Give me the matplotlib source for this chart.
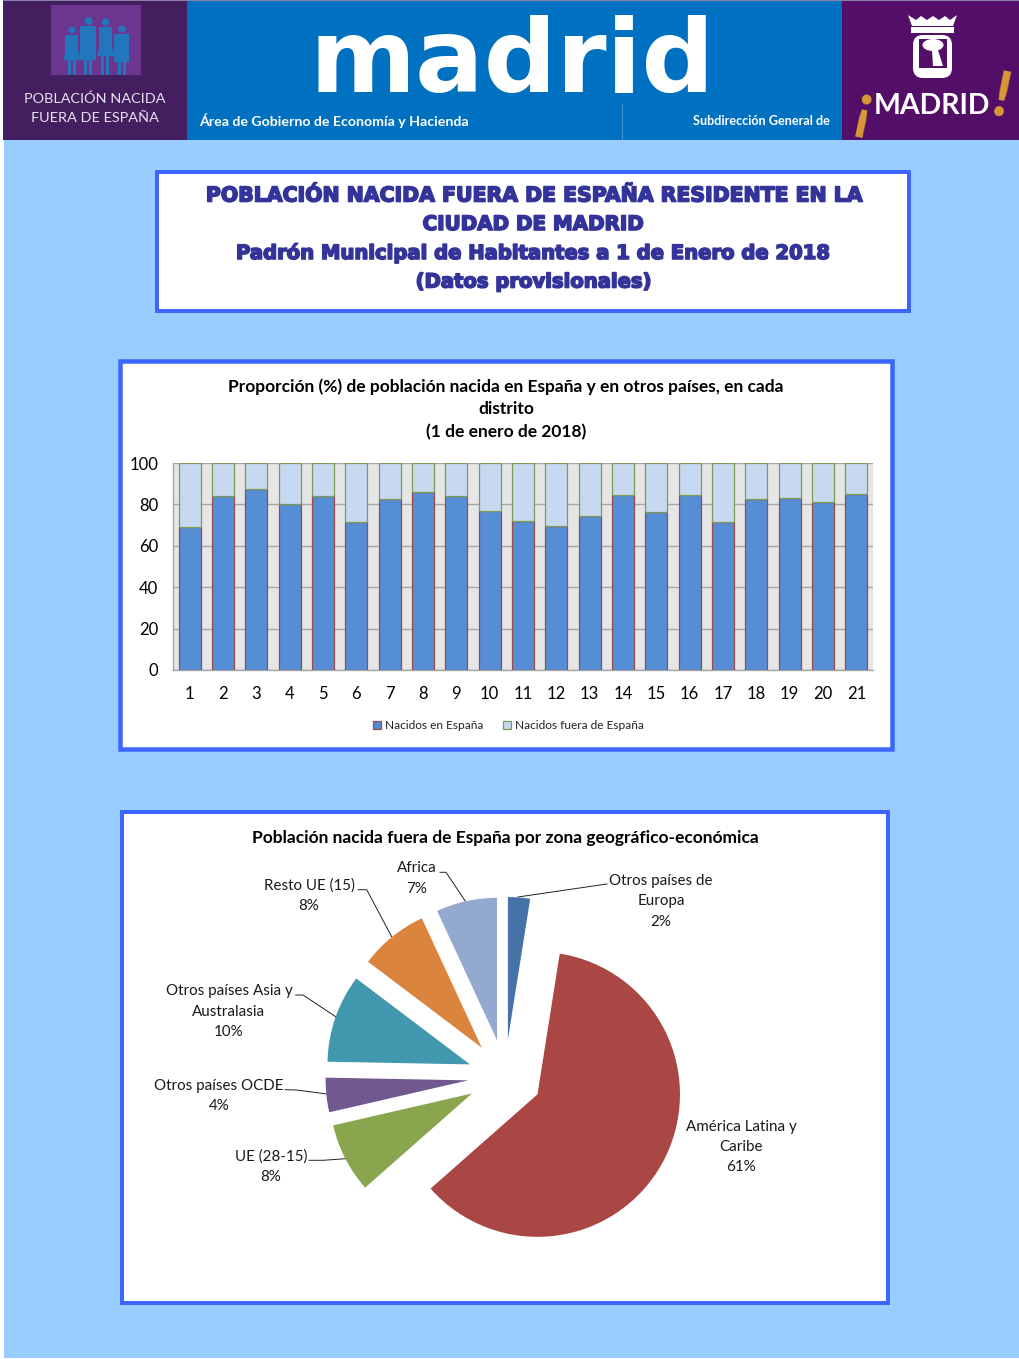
import matplotlib
matplotlib.use("Agg")
import matplotlib.pyplot as plt
import matplotlib.patheffects as pe
from matplotlib.patches import Rectangle, Circle, Ellipse, Polygon, FancyBboxPatch

W, H = 1020, 1359

# ---- data ----
districts = [str(i) for i in range(1, 22)]
born_spain = [69.0, 83.9, 87.6, 80.2, 84.2, 71.6, 82.4, 86.1, 83.9, 76.9, 71.9,
              69.5, 74.5, 84.7, 76.5, 84.4, 71.6, 82.7, 82.9, 81.3, 85.0]
born_abroad = [31.0, 16.1, 12.4, 19.8, 15.8, 28.4, 17.6, 13.9, 16.1, 23.1, 28.1,
               30.5, 25.5, 15.3, 23.5, 15.6, 28.4, 17.3, 17.1, 18.7, 15.0]
y_ticks = [0, 20, 40, 60, 80, 100]
legend_names = ["Nacidos en España", "Nacidos fuera de España"]

zones = ["Otros países de\nEuropa", "América Latina y\nCaribe", "UE (28-15)", "Otros países OCDE",
         "Otros países Asia y\nAustralasia", "Resto UE (15)", "Africa"]
zone_values = [2.5, 61.0, 7.9, 3.9, 10.0, 7.8, 6.9]
zone_pct = ["2%", "61%", "8%", "4%", "10%", "8%", "7%"]
zone_colors = ["#4572a7", "#aa4643", "#89a54e", "#71588f", "#4198af", "#db843d", "#93a9cf"]

BODY = "Lato"
BOX = "#3c66ff"
PAGE = "#99ccff"

fig = plt.figure(figsize=(W / 100, H / 100), dpi=100, facecolor="white")

def px_axes(x0, y0, x1, y1, **kw):
    return fig.add_axes([x0 / W, 1 - y1 / H, (x1 - x0) / W, (y1 - y0) / H], **kw)

# ---- page layer in pixel coordinates ----
bg = fig.add_axes([0, 0, 1, 1], zorder=0)
bg.set_xlim(0, W)
bg.set_ylim(H, 0)
bg.axis("off")

def rect(x0, y0, x1, y1, **kw):
    bg.add_patch(Rectangle((x0, y0), x1 - x0, y1 - y0, **kw))

rect(4, 139, W, 1358, fc=PAGE, ec="none")
rect(3, 1, 187, 139.5, fc="#441f5f", ec="none")
rect(187, 1, 842, 139.5, fc="#0070c0", ec="none")
rect(842, 1, W, 139.5, fc="#530f67", ec="none")
rect(3, 0, W, 1, fc="#8a7fa8", ec="none")
bg.plot([622, 622], [104, 139], color="#3f8fd0", lw=0.8)

# left logo
rect(51, 5, 141, 75, fc="#6b3590", ec="none")
people = "#2176bc"
for cx, hy, r, top, bot, half in [(72, 30, 3.4, 35, 60, 6.5), (88.5, 21, 4, 26, 60, 8),
                                  (105.5, 22, 3.8, 27, 56, 6.5), (122, 29, 3.6, 34, 62, 7.5)]:
    bg.add_patch(Circle((cx, hy), r, fc=people, ec="none"))
    rect(cx - half, top, cx + half, bot, fc=people, ec="none")
    rect(cx - 4, bot, cx - 1, 75, fc=people, ec="none")
    rect(cx + 1, bot, cx + 4, 75, fc=people, ec="none")
bg.add_patch(Polygon([(66, 50), (78, 50), (81, 60), (63, 60)], fc=people, ec="none"))
bg.add_patch(Polygon([(100, 45), (111, 45), (115, 56), (97, 56)], fc=people, ec="none"))
bg.text(95, 99, "POBLACIÓN NACIDA", family=BODY, fontsize=10.35, color="#e6e3ee", ha="center", va="center")
bg.text(95, 118, "FUERA DE ESPAÑA", family=BODY, fontsize=10.35, color="#e6e3ee", ha="center", va="center")

# central header
bg.text(512, 92, "madrid", family="DejaVu Sans", weight="bold", fontsize=73.3, color="white",
        ha="center", va="baseline")
bg.text(199, 121, "Área de Gobierno de Economía y Hacienda", family=BODY, weight="bold", fontsize=10.2,
        color="white", ha="left", va="center")
bg.text(830, 121, "Subdirección General de", family=BODY, weight="bold", fontsize=9.05,
        color="white", ha="right", va="center")

# right logo: shield and crown
bg.add_patch(Polygon([(908, 15), (916, 20), (921, 16), (927, 20), (933, 16), (939, 20), (945, 16),
                      (950, 20), (957, 15), (953, 26), (912, 26)], fc="white", ec="none"))
rect(911, 27, 954, 33, fc="white", ec="none")
bg.add_patch(FancyBboxPatch((913, 35), 39, 43, boxstyle="round,pad=0,rounding_size=10", fc="white", ec="none"))
rect(919, 39, 947, 68, fc="#530f67", ec="none")
bg.add_patch(Ellipse((933, 45), 21, 12, fc="white", ec="none"))
bg.add_patch(Polygon([(932, 50), (938, 50), (943, 66), (933, 66)], fc="white", ec="none"))
bg.text(932.5, 106, "MADRID", family=BODY, weight="bold", fontsize=20.5, color="white", ha="center", va="center")
bg.text(864, 110, "¡", family=BODY, weight="bold", fontsize=46, color="#d89a35", ha="center", va="center", rotation=-12)
bg.text(1002, 99, "!", family=BODY, weight="bold", fontsize=46, color="#d89a35", ha="center", va="center", rotation=-12)

# framed boxes
def box(x0, y0, x1, y1, lw_px=4):
    h = lw_px / 2
    rect(x0 + h, y0 + h, x1 - h, y1 - h, fc="white", ec=BOX, lw=lw_px * 0.72)

box(155, 170, 911, 313)
box(118, 359, 894, 751, 4.5)
box(120, 810, 890, 1305)

# title block
title_lines = ["POBLACIÓN NACIDA FUERA DE ESPAÑA RESIDENTE EN LA", "CIUDAD DE MADRID",
               "Padrón Municipal de Habitantes a 1 de Enero de 2018", "(Datos provisionales)"]
for ty, line, fs in zip([196, 224.5, 253, 282], title_lines, [14.7, 14.3, 14.1, 14.1]):
    bg.text(533.5, ty, line, family="DejaVu Sans", weight="bold", fontsize=fs, color="#333399",
            ha="center", va="center",
            path_effects=[pe.withStroke(linewidth=1.2, foreground="#333399")])

# ---- bar chart ----
for ty, line in zip([386.5, 409.5, 432.5], ["Proporción (%) de población nacida en España y en otros países, en cada",
                                            "distrito", "(1 de enero de 2018)"]):
    bg.text(506, ty, line, family=BODY, weight="bold", fontsize=12.55, color="black", ha="center", va="center")

ax = px_axes(173, 463, 873, 670, zorder=2)
ax.set_facecolor("#e6e6e6")
xs = list(range(1, 22))
b1 = ax.bar(xs, born_spain, width=0.66, color="#558ed5", edgecolor="#9a4a4a", linewidth=0.9, zorder=3,
            label=legend_names[0])
b2 = ax.bar(xs, born_abroad, bottom=born_spain, width=0.66, color="#c6d9f1", edgecolor="#7f9a55",
            linewidth=0.9, zorder=3, label=legend_names[1])
ax.set_xlim(0.5, 21.5)
ax.set_ylim(0, 100)
ax.set_yticks(y_ticks)
ax.set_xticks(xs)
ax.set_xticklabels(districts)
ax.yaxis.grid(True, color="#a6a6a6", lw=1.0, zorder=1)
ax.set_axisbelow(True)
for s in ["top", "right"]:
    ax.spines[s].set_visible(False)
for s in ["left", "bottom"]:
    ax.spines[s].set_color("#a6a6a6")
    ax.spines[s].set_linewidth(1.0)
ax.tick_params(axis="both", length=0, labelsize=12, labelcolor="black")
ax.tick_params(axis="x", pad=11.2)
ax.tick_params(axis="y", pad=10.5)
for lab in ax.get_xticklabels() + ax.get_yticklabels():
    lab.set_family(BODY)
ax.legend(handles=[b1, b2], ncol=2, loc="center", bbox_to_anchor=(508.5 / W, 1 - 725.5 / H),
          bbox_transform=fig.transFigure, frameon=False, prop={"family": BODY, "size": 8.6},
          handlelength=0.65, handleheight=0.7, handletextpad=0.3, columnspacing=1.7, labelcolor="#222222")

# ---- pie chart ----
bg.text(505, 837.5, "Población nacida fuera de España por zona geográfico-económica", family=BODY, weight="bold",
        fontsize=12.5, color="black", ha="center", va="center")

cx, cy, r = 505, 1076.5, 142.5
half = r * 1.3
pax = px_axes(cx - half, cy - half, cx + half, cy + half, zorder=2)
pax.pie(zone_values, explode=[0.26] * len(zone_values), colors=zone_colors, startangle=90, counterclock=False,
        radius=1, wedgeprops={"linewidth": 0})
pax.set_xlim(-1.3, 1.3)
pax.set_ylim(-1.3, 1.3)
pax.patch.set_alpha(0)

label_pos = [(661, 901.5), (741, 1147), (271, 1166.5), (219, 1096), (229, 1011.5), (309, 896), (417, 878.5)]
for name, pct, (lx, ly) in zip(zones, zone_pct, label_pos):
    bg.text(lx, ly, name + "\n" + pct, family=BODY, fontsize=10.9, color="#1a1a1a", ha="center", va="center",
            linespacing=1.55)

leaders = [[(607, 884), (600, 885), (518, 897)],
           [(309, 1160.3), (323, 1160.3), (345.7, 1158.7)],
           [(285, 1089.7), (296.7, 1090), (326.7, 1094)],
           [(295.7, 995), (303, 995), (335.7, 1016.7)],
           [(358, 889.7), (366.7, 889.7), (391.7, 936.7)],
           [(440, 872.3), (446, 872.3), (465.7, 901.7)]]
for pts in leaders:
    bg.plot([p[0] for p in pts], [p[1] for p in pts], color="#222222", lw=0.7, zorder=5)

fig.savefig("out.png", dpi=100)
